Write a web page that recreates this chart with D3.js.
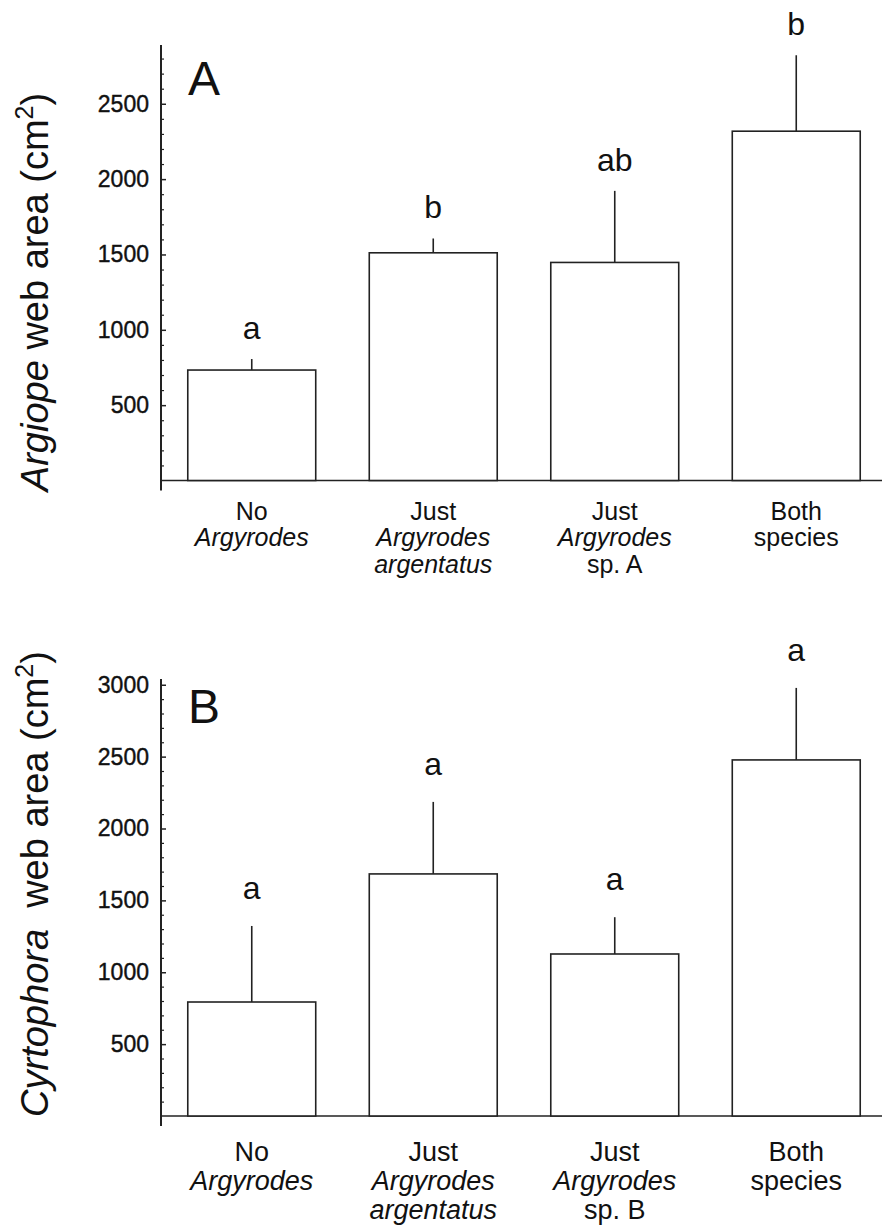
<!DOCTYPE html>
<html>
<head>
<meta charset="utf-8" />
<title>Web area</title>
<style>
html, body {
  margin: 0;
  padding: 0;
  background-color: #FFFFFF;
}
svg {
  display: block;
  font-family: "Liberation Sans", Arial, sans-serif;
}
</style>
<script src="https://cdn.jsdelivr.net/npm/d3@7"></script>
</head>
<body>
<script>

// ---- data ----
var categories = ["none", "argentatus", "spX", "both"];

// category labels, each line: [text, italic]
var labelsA = [
  [["No", false], ["Argyrodes", true]],
  [["Just", false], ["Argyrodes", true], ["argentatus", true]],
  [["Just", false], ["Argyrodes", true], ["sp. A", false]],
  [["Both", false], ["species", false]]
];
var labelsB = [
  [["No", false], ["Argyrodes", true]],
  [["Just", false], ["Argyrodes", true], ["argentatus", true]],
  [["Just", false], ["Argyrodes", true], ["sp. B", false]],
  [["Both", false], ["species", false]]
];

// Argiope web area (panel A)
var meanA = [733, 1511, 1447, 2318];
var errA = [73, 95, 475, 504];
var lettersA = ["a", "b", "ab", "b"];
var ticksA = [500, 1000, 1500, 2000, 2500];

// Cyrtophora web area (panel B)
var meanB = [793, 1684, 1127, 2477];
var errB = [529, 501, 256, 501];
var lettersB = ["a", "a", "a", "a"];
var ticksB = [500, 1000, 1500, 2000, 2500, 3000];

var W = 882, H = 1227;

var svg = d3.select("body").append("svg")
  .attr("width", W)
  .attr("height", H);

svg.append("rect").attr("width", W).attr("height", H).attr("fill", "#fff");

var x = d3.scaleBand()
  .domain(categories)
  .range([161, 887])
  .paddingInner(0.295)
  .paddingOuter(0.1475);

function panel(opt) {
  var g = svg.append("g");
  var y = d3.scaleLinear().domain([0, opt.ymax]).range([opt.bottom, opt.top]);

  // minor ticks every 100, pointing inward
  var minor = d3.range(100, opt.ymax, 100).filter(function(v) { return v % 500 != 0; });
  g.append("g")
    .attr("transform", "translate(161,0)")
    .call(d3.axisLeft(y).tickValues(minor).tickSizeInner(-3).tickSizeOuter(0).tickFormat(""))
    .call(function(a) { a.select(".domain").remove(); })
    .selectAll("line").attr("stroke", "#222").attr("stroke-width", 1.2);

  // major ticks with labels
  var major = g.append("g")
    .attr("transform", "translate(161,0)")
    .call(d3.axisLeft(y).tickValues(opt.ticks).tickFormat(d3.format("d"))
      .tickSizeInner(-5).tickSizeOuter(0).tickPadding(12));
  major.select(".domain").remove();
  major.selectAll("line").attr("stroke", "#222").attr("stroke-width", 1.5);
  major.selectAll("text")
    .attr("font-size", 23)
    .attr("font-family", "Liberation Sans, Arial, sans-serif")
    .attr("fill", "#111")
    .attr("stroke", "#111")
    .attr("stroke-width", 0.4);

  // axis lines
  g.append("line")
    .attr("x1", 161).attr("x2", 161)
    .attr("y1", y(opt.ymax)).attr("y2", opt.bottom + 10)
    .attr("stroke", "#222").attr("stroke-width", 2);
  g.append("line")
    .attr("x1", 161).attr("x2", 887)
    .attr("y1", opt.bottom).attr("y2", opt.bottom)
    .attr("stroke", "#222").attr("stroke-width", 1.6);

  // error bars (upper only)
  g.selectAll(".err").data(opt.mean).enter().append("line")
    .attr("x1", function(d, i) { return x(categories[i]) + x.bandwidth() / 2; })
    .attr("x2", function(d, i) { return x(categories[i]) + x.bandwidth() / 2; })
    .attr("y1", function(d) { return y(d); })
    .attr("y2", function(d, i) { return y(d + opt.err[i]); })
    .attr("stroke", "#222").attr("stroke-width", 1.6);

  // bars
  g.selectAll(".bar").data(opt.mean).enter().append("rect")
    .attr("x", function(d, i) { return x(categories[i]); })
    .attr("y", function(d) { return y(d); })
    .attr("width", x.bandwidth())
    .attr("height", function(d) { return opt.bottom - y(d); })
    .attr("fill", "#fff")
    .attr("stroke", "#222")
    .attr("stroke-width", 1.6);

  // significance letters
  g.selectAll(".let").data(opt.letters).enter().append("text")
    .attr("x", function(d, i) { return x(categories[i]) + x.bandwidth() / 2; })
    .attr("y", function(d, i) { return y(opt.mean[i] + opt.err[i]) - opt.letterGap; })
    .attr("text-anchor", "middle")
    .attr("font-size", 32)
    .attr("fill", "#111")
    .text(function(d) { return d; });

  // panel letter
  g.append("text")
    .attr("x", 188).attr("y", opt.panelY)
    .attr("font-size", 48)
    .attr("fill", "#111")
    .text(opt.panel);

  // category labels
  opt.labels.forEach(function(lines, i) {
    var t = g.append("text")
      .attr("text-anchor", "middle")
      .attr("font-size", opt.labelSize)
      .attr("fill", "#111");
    lines.forEach(function(ln, j) {
      t.append("tspan")
        .attr("x", x(categories[i]) + x.bandwidth() / 2)
        .attr("y", opt.bottom + opt.labelOffset + j * opt.lineH)
        .attr("font-style", ln[1] ? "italic" : "normal")
        .text(ln[0]);
    });
  });

  // y title
  var yt = g.append("text")
    .attr("transform", "translate(48," + opt.titleY + ") rotate(-90)")
    .attr("text-anchor", "middle")
    .attr("font-size", 38)
    .attr("fill", "#111");
  yt.append("tspan").attr("font-style", "italic").text(opt.genus);
  yt.append("tspan").text(opt.gap + "web area (cm");
  yt.append("tspan").attr("font-size", 25).attr("dy", -15).text("2");
  yt.append("tspan").attr("dy", 15).text(")");
}

panel({
  panel: "A", panelY: 95,
  top: 45, bottom: 480.5, ymax: 2890,
  mean: meanA, err: errA, letters: lettersA, ticks: ticksA,
  letterGap: 20,
  labels: labelsA, labelSize: 25, labelOffset: 39, lineH: 26.5,
  genus: "Argiope", gap: " ", titleY: 292
});

panel({
  panel: "B", panelY: 723,
  top: 679, bottom: 1116, ymax: 3040,
  mean: meanB, err: errB, letters: lettersB, ticks: ticksB,
  letterGap: 27,
  labels: labelsB, labelSize: 27, labelOffset: 45, lineH: 29,
  genus: "Cyrtophora", gap: "\u00a0 ", titleY: 884
});

</script>
</body>
</html>
